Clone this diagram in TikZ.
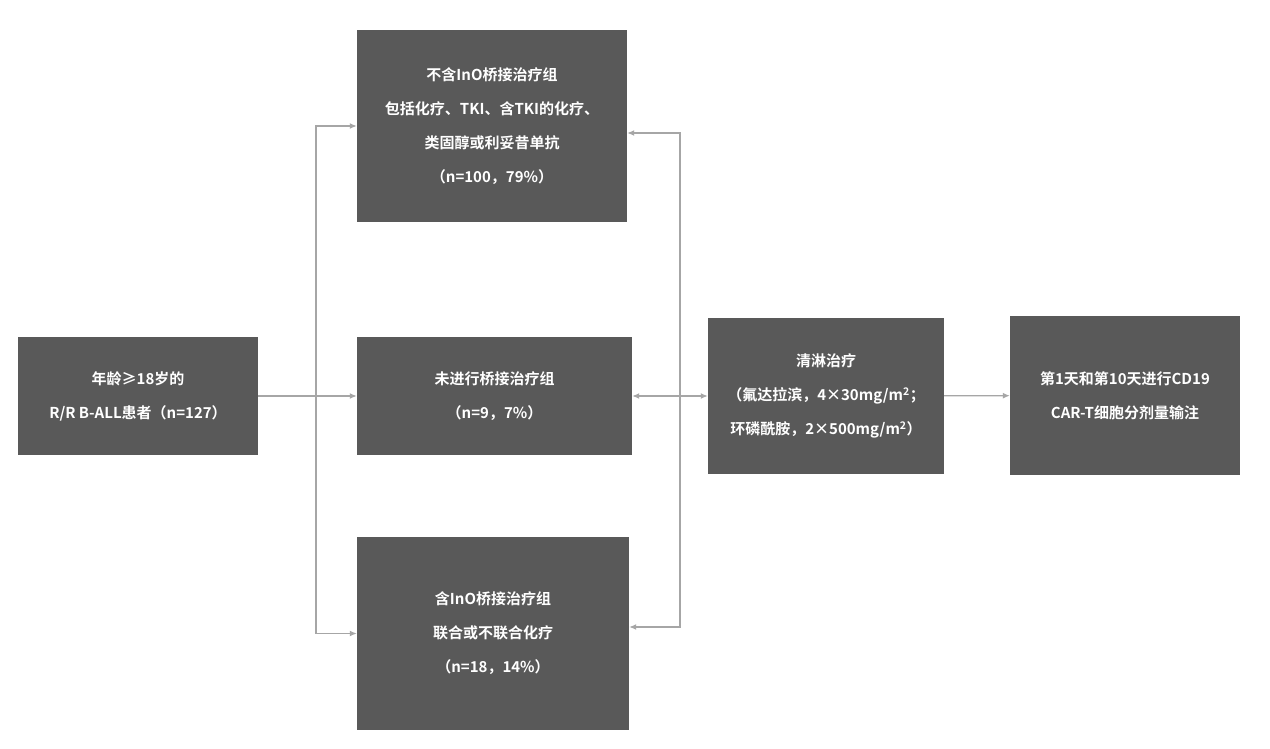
\documentclass[tikz,border=0pt]{standalone}
\usepackage{fontspec}
\setmainfont{Noto Sans CJK SC}[BoldFont={Noto Sans CJK SC Bold}]
\usetikzlibrary{positioning}
\usetikzlibrary{arrows.meta}
\definecolor{boxgray}{HTML}{595959}
\definecolor{linegray}{HTML}{A6A6A6}
\begin{document}
\begin{tikzpicture}[x=1pt, y=-1pt,
        BOX/.style={rectangle, fill=boxgray, text=white, align=center, inner sep=0pt, font=\fontsize{15}{34}\selectfont\bfseries},
        LNK/.style={draw=linegray, line width=1.3pt, -{Latex[length=7pt,width=6pt]}}]
        \useasboundingbox[fill=white] (0,0) rectangle (1270,749);

        \node[BOX, minimum width=240, minimum height=118] (pat) at (138,396) {年龄≥18岁的\\R/R B-ALL患者（n=127）};
        \node[BOX, minimum width=270, minimum height=192] (noino) at (492,126) {不含InO桥接治疗组\\包括化疗、TKI、含TKI的化疗、\\类固醇或利妥昔单抗\\（n=100，79\%）};
        \node[BOX, minimum width=275, minimum height=118] (none) at (494.5,396) {未进行桥接治疗组\\（n=9，7\%）};
        \node[BOX, minimum width=272, minimum height=193] (ino) at (493,633.5) {含InO桥接治疗组\\联合或不联合化疗\\（n=18，14\%）};
        \node[BOX, minimum width=236, minimum height=156] (ld) at (826,396) {清淋治疗\\（氟达拉滨，4×30mg/m\textsuperscript{2}；\\环磷酰胺，2×500mg/m\textsuperscript{2}）};
        \node[BOX, minimum width=230, minimum height=159] (car) at (1125,395.5) {第1天和第10天进行CD19\\CAR-T细胞分剂量输注};

        \coordinate (J1) at (316,396);
        \coordinate (J2) at (680,396);

        \draw[LNK] (pat) -- (none);
        \draw[LNK] (J1) |- (noino.west);
        \draw[LNK] (J1) |- (ino.west);
        \draw[LNK] (J2) |- ([yshift=-7] noino.east);
        \draw[LNK] (J2) |- ([yshift=6.5] ino.east);
        \draw[LNK, {Latex[length=7pt,width=6pt]}-{Latex[length=7pt,width=6pt]}] (none) -- (ld);
        \draw[LNK] (ld) -- (car);
    \end{tikzpicture}
\end{document}
